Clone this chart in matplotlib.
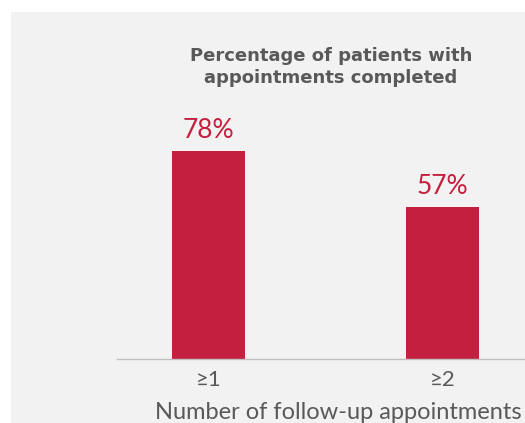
import matplotlib.pyplot as plt
from matplotlib.patches import Rectangle

categories = ['\u22651', '\u22652']
values = [78, 57]
labels = ['78%', '57%']

red = '#c41f3e'
grey = '#595959'

fig = plt.figure(figsize=(5.25, 4.23), dpi=100)
fig.patch.set_facecolor('white')
# light grey panel behind the chart
fig.add_artist(Rectangle((11 / 525, 0), 1, 1 - 12 / 423, transform=fig.transFigure,
                         facecolor='#f2f2f2', edgecolor='none', zorder=0))

ax = fig.add_axes([117 / 525, 64 / 423, 408 / 525, 266.7 / 423])
ax.set_facecolor('none')
x = range(len(values))
ax.bar(x, values, width=0.312, color=red, zorder=2)
ax.set_xlim(-0.391, 1.353)
ax.set_ylim(0, 100)

for i, (v, t) in enumerate(zip(values, labels)):
    ax.text(i, v + 3, t, ha='center', va='bottom', color=red, fontsize=19,
            family=['Lato', 'DejaVu Sans'])

for s in ['top', 'right', 'left']:
    ax.spines[s].set_visible(False)
ax.spines['bottom'].set_color('#bfbfbf')
ax.spines['bottom'].set_linewidth(1)
ax.set_yticks([])
ax.set_xticks(list(x))
ax.set_xticklabels(categories, fontsize=16, color=grey, family=['Lato', 'DejaVu Sans'])
ax.tick_params(axis='x', length=0, pad=8)
ax.set_xlabel('Number of follow-up appointments', fontsize=17, color=grey,
              family=['Lato', 'DejaVu Sans'], labelpad=8.5)
ax.xaxis.label.set_x(0.542)

fig.text(331 / 525, 1 - 67 / 423, 'Percentage of patients with\nappointments completed',
         ha='center', va='center', fontsize=13, fontweight='bold', color=grey,
         linespacing=1.35)

fig.savefig('out.png', dpi=100)
